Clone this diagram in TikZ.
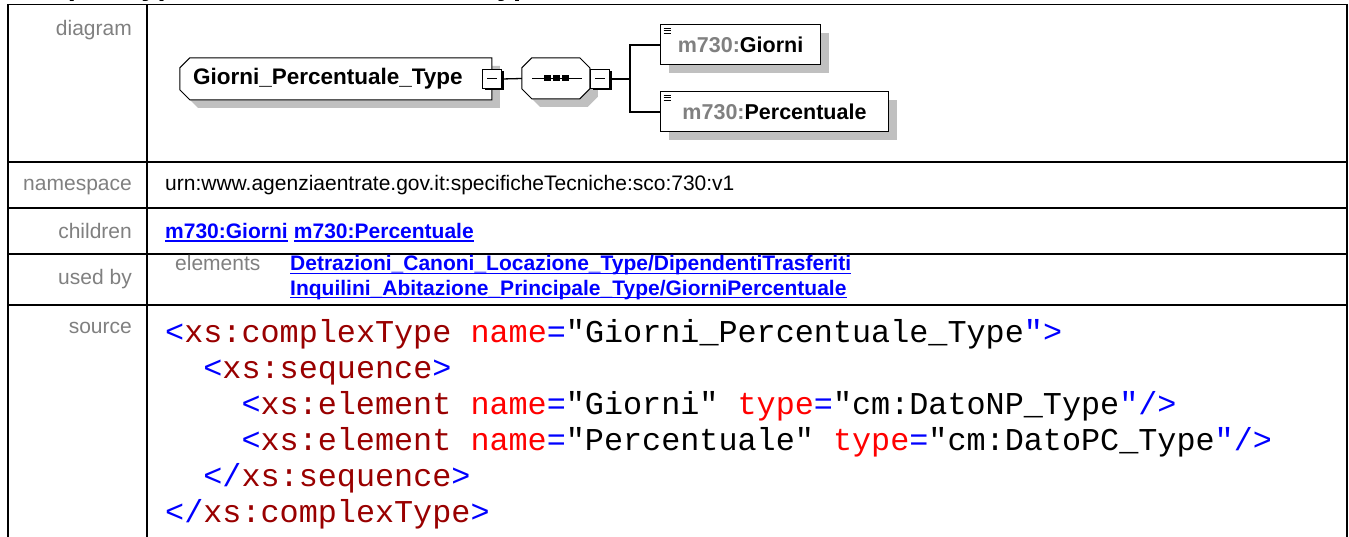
\documentclass[tikz,border=0pt]{standalone}
\usepackage{fontspec}
\setmainfont{Liberation Sans}
\newfontfamily\codefont{Liberation Mono}
\usetikzlibrary{shadows,positioning}
\pgfdeclarelayer{background}
\pgfsetlayers{background,main}
\definecolor{labelgrey}{HTML}{808080}
\definecolor{linkblue}{HTML}{0000FF}
\definecolor{tagred}{HTML}{990000}
\definecolor{attred}{HTML}{FF0000}
\definecolor{symblue}{HTML}{0000FF}
\definecolor{shadowgrey}{HTML}{C0C0C0}
\newcommand{\xmlsym}[1]{\textcolor{symblue}{#1}}
\newcommand{\xmltag}[1]{\textcolor{tagred}{#1}}
\newcommand{\xmlatt}[1]{\textcolor{attred}{#1}}

\begin{document}
\begin{tikzpicture}[x=1pt,y=-1pt,
  tabline/.style={line width=1.8pt},
  wire/.style={line width=1.3pt},
  boxline/.style={line width=1pt, fill=white},
  underl/.style={line width=1.5pt, linkblue},
  lbl/.style={font=\fontsize{21}{24}\selectfont, text=labelgrey, inner sep=0pt, anchor=base east},
  val/.style={font=\fontsize{21}{24}\selectfont, inner sep=0pt, anchor=base west},
  lnk/.style={font=\fontsize{21}{24}\selectfont\bfseries, text=linkblue, inner sep=0pt, anchor=base west},
  code/.style={font=\codefont\fontsize{31.8}{36}\selectfont, inner sep=0pt, anchor=base west},
  typebox/.style={font=\fontsize{22.5}{24}\selectfont\bfseries, inner sep=0pt, align=left},
  elembox/.style={draw, fill=white, line width=1pt, anchor=west,
    drop shadow={shadow xshift=8pt,shadow yshift=-8pt,fill=shadowgrey,opacity=1},
    minimum height=40pt, inner sep=0pt, font=\fontsize{21.5}{24}\selectfont\bfseries,
    path picture={\foreach \k in {0,1,2}
      \draw[line width=0.8pt] ([xshift=3pt,yshift={-3pt-2.5pt*\k}]path picture bounding box.north west) -- ++(7pt,0);}},
  collapse/.style={draw, fill=white, minimum size=19pt, inner sep=0pt, line width=1.2pt,
    drop shadow={shadow xshift=2pt,shadow yshift=-2pt,fill=black,opacity=1},
    path picture={\draw[line width=1pt] ([xshift=4.5pt]path picture bounding box.west) -- ([xshift=-4.5pt]path picture bounding box.east);}}
]
\useasboundingbox (0,0) rectangle (1349,537);

% heading, cut off at the top
\node[anchor=base west, inner sep=0pt, font=\fontsize{29}{30}\selectfont\bfseries] (title) at (8,-4.2) {complexType Giorni\_Percentuale\_Type};

% table
\draw[tabline] (8,545) -- (8,4.5) -- (1347,4.5) -- (1347,545);
\draw[tabline] (147,4.5) -- (147,545);
\foreach \ry in {162,208,254,305}
  \draw[tabline] (8,\ry) -- (1347,\ry);

% diagram
\node[typebox, minimum width=312pt, minimum height=42pt, text width=286pt] (T) at (336,79) {Giorni\_Percentuale\_Type};
\node[collapse] (Tc) at (492,79) {};
\node[minimum width=68pt, minimum height=41pt, inner sep=0pt] (S) at (556,78.5) {};
\draw[line width=1pt] ([xshift=-24pt]S.center) -- ([xshift=26pt]S.center);
\foreach \dx in {-8.5,0.5,9.5}
  \fill ([xshift=\dx pt]S.center) +(-3.5,-3) rectangle +(3.5,3);
\node[collapse] (Sc) at (600,79) {};
\node[elembox, minimum width=160pt] (C1) at (660,45) {\textcolor{labelgrey}{m730:}Giorni};
\node[elembox, minimum width=228pt] (C2) at (660,112) {\textcolor{labelgrey}{m730:}Percentuale};
\coordinate (B) at (630,79);

\begin{pgfonlayer}{background}
\fill[white] (0,0) rectangle (1349,537);
\fill[shadowgrey] (T.north west) ++(18,8) -- ++(302,0) -- ++(0,42) -- ++(-302,0) -- ++(-10,-10) -- ++(0,-22) -- cycle;
\draw[boxline] (T.north west) ++(10,0) -- ++(302,0) -- ++(0,42) -- ++(-302,0) -- ++(-10,-10) -- ++(0,-22) -- cycle;
\fill[shadowgrey] (S.north west) ++(18,8) -- ++(48,0) -- ++(10,10) -- ++(0,21) -- ++(-10,10) -- ++(-48,0) -- ++(-10,-10) -- ++(0,-21) -- cycle;
\draw[boxline] (S.north west) ++(10,0) -- ++(48,0) -- ++(10,10) -- ++(0,21) -- ++(-10,10) -- ++(-48,0) -- ++(-10,-10) -- ++(0,-21) -- cycle;
\end{pgfonlayer}

\draw[wire] (Tc.east) -- (S.west);
\draw[wire] (Sc.east) -- (B);
\draw[wire] (B) |- (C1.west);
\draw[wire] (B) |- (C2.west);

% rows
\node[lbl] (ldiagram) at (132,35.7) {diagram};
\node[lbl] (lnamespace) at (132,191) {namespace};
\node[val] (vnamespace) at (165,191) {urn:www.agenziaentrate.gov.it:specificheTecniche:sco:730:v1};
\node[lbl] (lchildren) at (132,238.5) {children};
\node[lnk] (vchild1) at (165,238.5) {m730:Giorni};
\node[lnk] (vchild2) at ([xshift=5.84pt]vchild1.base east) {m730:Percentuale};
\node[lbl] (lusedby) at (132,284) {used by};
\node[lbl, anchor=base west] (lelements) at (175,271) {elements};
\node[lnk] (vused1) at (290,271) {Detrazioni\_Canoni\_Locazione\_Type/DipendentiTrasferiti};
\node[lnk] (vused2) at (290,295) {Inquilini\_Abitazione\_Principale\_Type/GiorniPercentuale};
\node[lbl] (lsource) at (132,333) {source};
\foreach \n in {vchild1,vchild2,vused1,vused2}
  \draw[underl] ([yshift=-2.5pt]\n.base west) -- ([yshift=-2.5pt]\n.base east);

% source code
\node[code] (code1) at (165,342.5) {\xmlsym{<}\xmltag{xs:complexType} \xmlatt{name}\xmlsym{=}"Giorni\_Percentuale\_Type\xmlsym{">}};
\node[code] (code2) at (203.2,378.5) {\xmlsym{<}\xmltag{xs:sequence}\xmlsym{>}};
\node[code] (code3) at (241.3,414.5) {\xmlsym{<}\xmltag{xs:element} \xmlatt{name}\xmlsym{=}"Giorni" \xmlatt{type}\xmlsym{=}"cm:DatoNP\_Type\xmlsym{"/>}};
\node[code] (code4) at (241.3,450.5) {\xmlsym{<}\xmltag{xs:element} \xmlatt{name}\xmlsym{=}"Percentuale" \xmlatt{type}\xmlsym{=}"cm:DatoPC\_Type\xmlsym{"/>}};
\node[code] (code5) at (203.2,486.5) {\xmlsym{</}\xmltag{xs:sequence}\xmlsym{>}};
\node[code] (code6) at (165,522.5) {\xmlsym{</}\xmltag{xs:complexType}\xmlsym{>}};

\end{tikzpicture}
\end{document}
